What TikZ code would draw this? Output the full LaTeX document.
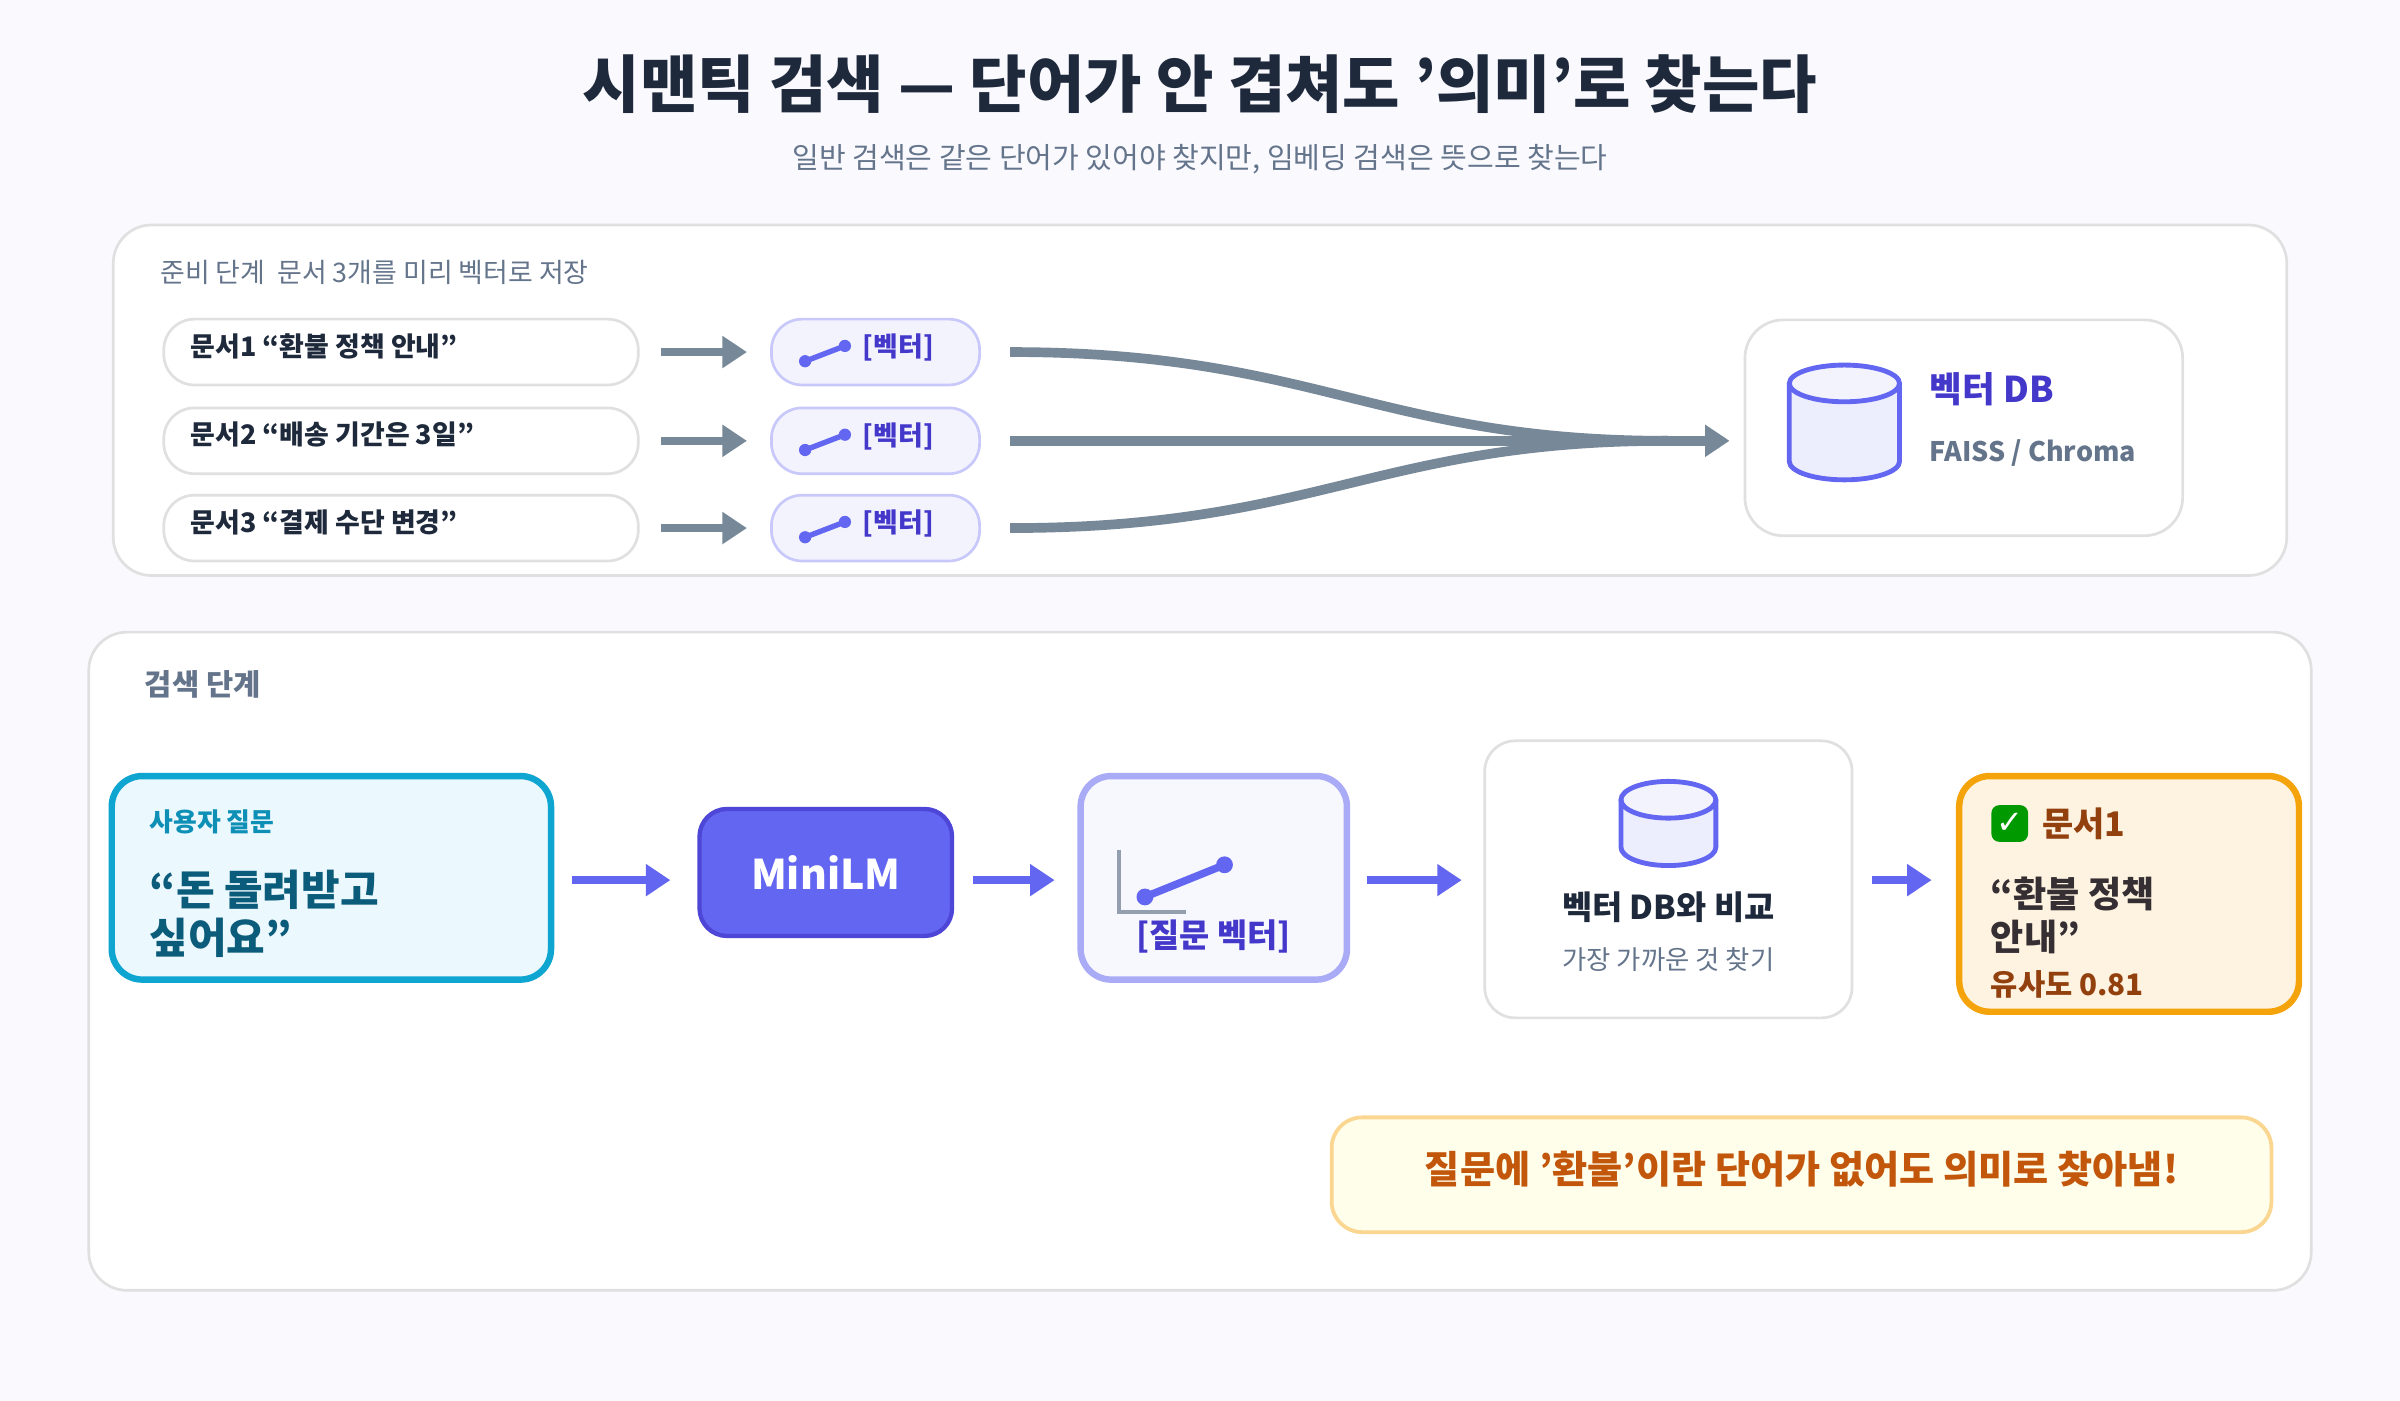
\documentclass[tikz,border=0pt]{standalone}
\usepackage{fontspec}
\setmainfont{Noto Sans CJK KR}[Ligatures=ResetAll]
\newfontfamily\symfont{DejaVu Sans}
\usetikzlibrary{positioning,arrows.meta}
\definecolor{ink}{HTML}{1E293B}
\definecolor{slate}{HTML}{64748B}
\definecolor{arrowgray}{HTML}{778899}
\definecolor{indigo}{HTML}{6366F1}
\definecolor{deepindigo}{HTML}{4338CA}
\definecolor{cyanedge}{HTML}{0EA5D0}
\definecolor{teal}{HTML}{0B5B7A}
\definecolor{amberedge}{HTML}{F5A30B}
\definecolor{brown}{HTML}{92400E}
\definecolor{orangetext}{HTML}{C2570C}
\tikzset{
  panel/.style={draw=black!12, fill=white, rounded corners=0.25cm, line width=0.5pt},
  docpill/.style={draw=black!12, fill=white, rounded corners=0.2cm, line width=0.5pt},
  vecpill/.style={draw=indigo!35, fill=indigo!8, rounded corners=0.2cm, line width=0.5pt},
  flow/.style={-{Triangle[length=0.16cm,width=0.2cm]}, line width=1.4pt},
  lbl/.style={anchor=west, inner sep=0pt, font=\fontsize{5}{6}\selectfont\bfseries, text=ink},
}
\newcommand{\drum}[4]{% x, y (center), width, height
  \fill[indigo!12] (#1-#3/2,#2+#4/2-0.12) -- (#1-#3/2,#2-#4/2+0.12) arc[start angle=180,end angle=360,x radius=#3/2,y radius=0.12] -- (#1+#3/2,#2+#4/2-0.12) -- cycle;
  \draw[indigo, line width=0.9pt, fill=indigo!8] (#1,#2+#4/2-0.12) ellipse[x radius=#3/2,y radius=0.12];
  \draw[indigo, line width=0.9pt] (#1-#3/2,#2+#4/2-0.12) -- (#1-#3/2,#2-#4/2+0.12) arc[start angle=180,end angle=360,x radius=#3/2,y radius=0.12] -- (#1+#3/2,#2+#4/2-0.12);
}
\begin{document}
\begin{tikzpicture}
  \fill[white!96!indigo] (0,0) rectangle (15.68,-9.15);
  \useasboundingbox (0,0) rectangle (15.68,-9.15);

  \node[font=\fontsize{11.6}{13}\selectfont\bfseries, text=ink] (title) at (7.84,-0.55) {시맨틱 검색 — 단어가 안 겹쳐도 '의미'로 찾는다};
  \node[font=\fontsize{5.4}{7}\selectfont, text=slate] (subtitle) at (7.84,-1.04) {일반 검색은 같은 단어가 있어야 찾지만, 임베딩 검색은 뜻으로 찾는다};

  % preparation
  \draw[panel] (0.74,-1.47) rectangle (14.94,-3.76);
  \node[lbl, text=slate, font=\fontsize{5}{6}\selectfont] (prep) at (1.04,-1.78) {준비 단계\ \ 문서 3개를 미리 벡터로 저장};
  \foreach \i/\txt/\y in {1/문서1 “환불 정책 안내”/-2.30, 2/문서2 “배송 기간은 3일”/-2.88, 3/문서3 “결제 수단 변경”/-3.45} {
    \draw[docpill] (1.07,\y+0.215) rectangle (4.17,\y-0.215);
    \node[lbl] (doc\i) at (1.24,\y+0.04) {\txt};
    \coordinate (a\i) at (4.32,\y);
    \coordinate (b\i) at (4.88,\y);
    \draw[flow, arrowgray] (a\i) -- (b\i);
    \draw[vecpill] (5.04,\y+0.215) rectangle (6.40,\y-0.215);
    \draw[indigo, line width=1pt] (5.26,\y-0.06) -- (5.52,\y+0.04);
    \fill[indigo] (5.26,\y-0.06) circle (0.04) (5.52,\y+0.04) circle (0.04);
    \node[lbl, text=deepindigo] (vec\i) at (5.63,\y+0.03) {[벡터]};
    \coordinate (c\i) at (6.60,\y);
  }
  \coordinate (merge) at (11.30,-2.88);
  \draw[arrowgray, line width=1.8pt] (c1) .. controls (8.6,-2.30) and (9.0,-2.88) .. (10.9,-2.88);
  \draw[arrowgray, line width=1.8pt] (c3) .. controls (8.6,-3.45) and (9.0,-2.88) .. (10.9,-2.88);
  \draw[flow, arrowgray, line width=1.8pt] (c2) -- (merge);

  \draw[panel] (11.40,-2.09) rectangle (14.26,-3.50);
  \drum{12.05}{-2.76}{0.72}{0.75}
  \node[lbl, text=deepindigo, font=\fontsize{6.6}{8}\selectfont\bfseries] (db) at (12.60,-2.54) {벡터 DB};
  \node[lbl, text=slate] (faiss) at (12.60,-2.96) {FAISS / Chroma};

  % retrieval
  \draw[panel] (0.58,-4.13) rectangle (15.10,-8.43);
  \node[lbl, text=slate, font=\fontsize{5.5}{7}\selectfont\bfseries] (search) at (0.94,-4.47) {검색 단계};

  \draw[draw=cyanedge, fill=cyan!8, rounded corners=0.2cm, line width=1.2pt] (0.73,-5.07) rectangle (3.60,-6.40);
  \node[lbl, text=cyanedge!70!teal, font=\fontsize{4.8}{6}\selectfont\bfseries] (asker) at (0.97,-5.37) {사용자 질문};
  \node[anchor=north west, inner sep=0pt, align=left, text=teal, font=\fontsize{7.8}{8.8}\selectfont\bfseries] (question) at (0.97,-5.68) {“돈 돌려받고\\싶어요”};

  \node[draw=deepindigo!70!indigo, fill=indigo, rounded corners=0.18cm, minimum width=1.65cm, minimum height=0.83cm, text=white, font=\fontsize{7.6}{9}\selectfont\bfseries, line width=0.8pt] (model) at (5.395,-5.70) {MiniLM};

  \draw[draw=indigo!55, fill=indigo!5, rounded corners=0.2cm, line width=1.2pt] (7.06,-5.07) rectangle (8.80,-6.40);
  \draw[slate!70, line width=0.7pt] (7.31,-5.55) -- (7.31,-5.96) -- (7.75,-5.96);
  \draw[indigo, line width=1.4pt] (7.48,-5.86) -- (8.00,-5.65);
  \fill[indigo] (7.48,-5.86) circle (0.055) (8.00,-5.65) circle (0.055);
  \node[text=deepindigo, font=\fontsize{6.1}{7}\selectfont\bfseries, inner sep=0pt] (qvec) at (7.93,-6.12) {[질문 벡터]};

  \draw[panel, rounded corners=0.2cm] (9.70,-4.84) rectangle (12.10,-6.65);
  \drum{10.90}{-5.38}{0.62}{0.55}
  \node[text=ink, font=\fontsize{6.1}{7}\selectfont\bfseries, inner sep=0pt] (compare) at (10.90,-5.93) {벡터 DB와 비교};
  \node[text=slate, font=\fontsize{4.9}{6}\selectfont, inner sep=0pt] (nearest) at (10.90,-6.27) {가장 가까운 것 찾기};

  \draw[draw=amberedge, fill=yellow!12!orange!10, rounded corners=0.2cm, line width=1.2pt] (12.80,-5.07) rectangle (15.02,-6.61);
  \node[fill=green!60!black, rounded corners=1.5pt, text=white, inner sep=0.5pt, minimum size=0.24cm, font=\symfont\fontsize{6}{6}\selectfont\bfseries] (check) at (13.13,-5.38) {✓};
  \node[lbl, text=brown, font=\fontsize{6.3}{7}\selectfont\bfseries, right=0.08cm of check] (hit) {문서1};
  \node[anchor=north west, inner sep=0pt, align=left, text=ink!80!brown, font=\fontsize{6.7}{8}\selectfont\bfseries] (hittext) at (13.00,-5.72) {“환불 정책\\안내”};
  \node[lbl, text=brown, font=\fontsize{5.5}{7}\selectfont\bfseries] (score) at (13.00,-6.43) {유사도 0.81};

  \draw[flow, indigo] (3.74,-5.75) -- (4.38,-5.75);
  \draw[flow, indigo] (6.36,-5.75) -- (6.89,-5.75);
  \draw[flow, indigo] (8.93,-5.75) -- (9.55,-5.75);
  \draw[flow, indigo] (12.23,-5.75) -- (12.62,-5.75);

  \draw[draw=amberedge!45, fill=yellow!8, rounded corners=0.2cm, line width=0.7pt] (8.70,-7.30) rectangle (14.84,-8.05);
  \node[text=orangetext, font=\fontsize{7.1}{8}\selectfont\bfseries, inner sep=0pt] (note) at (11.77,-7.64) {질문에 '환불'이란 단어가 없어도 의미로 찾아냄!};
\end{tikzpicture}
\end{document}
